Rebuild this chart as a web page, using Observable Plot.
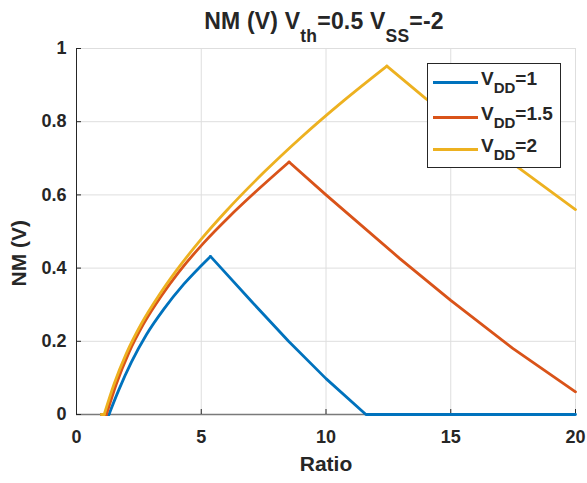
<!DOCTYPE html>
<html>
<head>
<meta charset="utf-8">
<script src="https://cdn.jsdelivr.net/npm/d3@7"></script>
<script src="https://cdn.jsdelivr.net/npm/@observablehq/plot@0.6"></script>
<style>
  body { margin: 0; background: #fff; }
  #wrap { position: relative; width: 587px; height: 483px; font-family: "Liberation Sans", Arial, Helvetica, sans-serif; font-weight: bold; color: #262626; }
  #wrap svg { position: absolute; left: 0; top: 0; }
  #title { position: absolute; left: 0; top: 10px; width: 648px; text-align: center; font-size: 23px; line-height: 23px; white-space: nowrap; letter-spacing: 0.2px; }
  .sub { position: relative; }
  #title .sub { top: 13px; font-size: 17.5px; }
  #legend { position: absolute; left: 427px; top: 63px; width: 134px; height: 105px; background: #fff; border: 1px solid #262626; box-sizing: border-box; }
  .sw { position: absolute; left: 5px; width: 45px; height: 3px; }
  .lt { position: absolute; left: 53px; font-size: 19px; line-height: 19px; white-space: nowrap; }
  .lt .sub { top: 8px; font-size: 15px; }
</style>
</head>
<body>
<div id="wrap"></div>
<script>
// ---- data ----
const blueRatio   = [1, 1.3, 1.7, 2.2, 2.8, 3.5, 4.3, 5.37, 5.8, 7.0, 8.5, 10, 11.6, 20];
const blueNM      = [0, 0, 0.068, 0.143, 0.218, 0.288, 0.356, 0.432, 0.40, 0.31, 0.2, 0.098, 0, 0];
const orangeRatio = [1, 1.2, 1.6, 2.1, 2.7, 3.4, 4.1, 5.1, 6.1, 7.3, 8.52, 10, 12.96, 15, 17.5, 20];
const orangeNM    = [0, 0, 0.084, 0.169, 0.249, 0.324, 0.389, 0.469, 0.539, 0.616, 0.69, 0.6, 0.426, 0.312, 0.18, 0.062];
const yellowRatio = [1, 1.11, 1.5, 2.0, 2.6, 3.3, 4.0, 5.0, 6.0, 7.5, 9.0, 10.7, 12.44, 14, 17, 20];
const yellowNM    = [0, 0, 0.082, 0.167, 0.248, 0.325, 0.393, 0.479, 0.556, 0.661, 0.757, 0.857, 0.952, 0.863, 0.71, 0.56];

const seriesNames  = ["VDD=1", "VDD=1.5", "VDD=2"];
const seriesColors = ["#0072BD", "#D95319", "#EDB120"];
const legendSubs   = ["DD", "DD", "DD"];
const legendValues = ["=1", "=1.5", "=2"];
const xTicks = [0, 5, 10, 15, 20];
const yTicks = [0, 0.2, 0.4, 0.6, 0.8, 1];

const ratios = [blueRatio, orangeRatio, yellowRatio];
const nms = [blueNM, orangeNM, yellowNM];

const marks = [
  Plot.gridX(xTicks, {stroke: "#dedede", strokeOpacity: 1, strokeWidth: 1}),
  Plot.gridY(yTicks, {stroke: "#dedede", strokeOpacity: 1, strokeWidth: 1}),
  Plot.ruleY([0], {stroke: "#7a7a7a", strokeWidth: 1.5}),
  Plot.ruleX([0], {stroke: "#262626", strokeWidth: 1}),
  Plot.axisX(xTicks, {tickSize: -5, tickPadding: 21, fontSize: 18, label: null, tickFormat: d => String(d)}),
  Plot.axisY(yTicks, {tickSize: -5, tickPadding: 15, fontSize: 18, label: null, tickFormat: d => String(d)}),
  Plot.text(["Ratio"], {text: d => d, frameAnchor: "bottom", dy: 56, fontSize: 21, fontWeight: "bold"}),
  Plot.text(["NM (V)"], {text: d => d, frameAnchor: "left", rotate: -90, dx: -57, dy: 55, fontSize: 21, fontWeight: "bold"})
];

// each series: flat start, smooth rising part, straight falling part
seriesNames.forEach((name, i) => {
  const rows = ratios[i].map((r, j) => ({ratio: r, nm: nms[i][j]}));
  const peak = d3.maxIndex(nms[i]);
  let start = 0;
  while (start + 1 < rows.length && rows[start + 1].nm === 0) start++;
  const common = {x: "ratio", y: "nm", stroke: seriesColors[i], strokeWidth: 2.8, strokeLinejoin: "round", strokeLinecap: "round"};
  marks.push(Plot.line(rows.slice(0, start + 1), {...common, curve: "linear"}));
  marks.push(Plot.line(rows.slice(start, peak + 1), {...common, curve: "monotone-x"}));
  marks.push(Plot.line(rows.slice(peak), {...common, curve: "linear"}));
});

const chart = Plot.plot({
  width: 587,
  height: 483,
  marginLeft: 76,
  marginRight: 12,
  marginTop: 48,
  marginBottom: 69,
  x: {domain: [0, 20]},
  y: {domain: [0, 1]},
  style: {fontFamily: '"Liberation Sans", Arial, Helvetica, sans-serif', fontWeight: "bold", fontSize: "18px", color: "#262626", background: "#fff", overflow: "visible"},
  marks
});

const wrap = document.getElementById("wrap");
wrap.appendChild(chart);

const title = document.createElement("div");
title.id = "title";
title.innerHTML = 'NM (V) V<span class="sub">th</span>=0.5 V<span class="sub">SS</span>=-2';
wrap.appendChild(title);

const legend = document.createElement("div");
legend.id = "legend";
const rowY = [18.7, 53, 85.3];
seriesNames.forEach((name, i) => {
  const sw = document.createElement("div");
  sw.className = "sw";
  sw.style.top = (rowY[i] - 1.5) + "px";
  sw.style.background = seriesColors[i];
  legend.appendChild(sw);
  const t = document.createElement("div");
  t.className = "lt";
  t.style.top = (rowY[i] - 13.5) + "px";
  t.innerHTML = 'V<span class="sub">' + legendSubs[i] + '</span>' + legendValues[i];
  legend.appendChild(t);
});
wrap.appendChild(legend);
</script>
</body>
</html>
